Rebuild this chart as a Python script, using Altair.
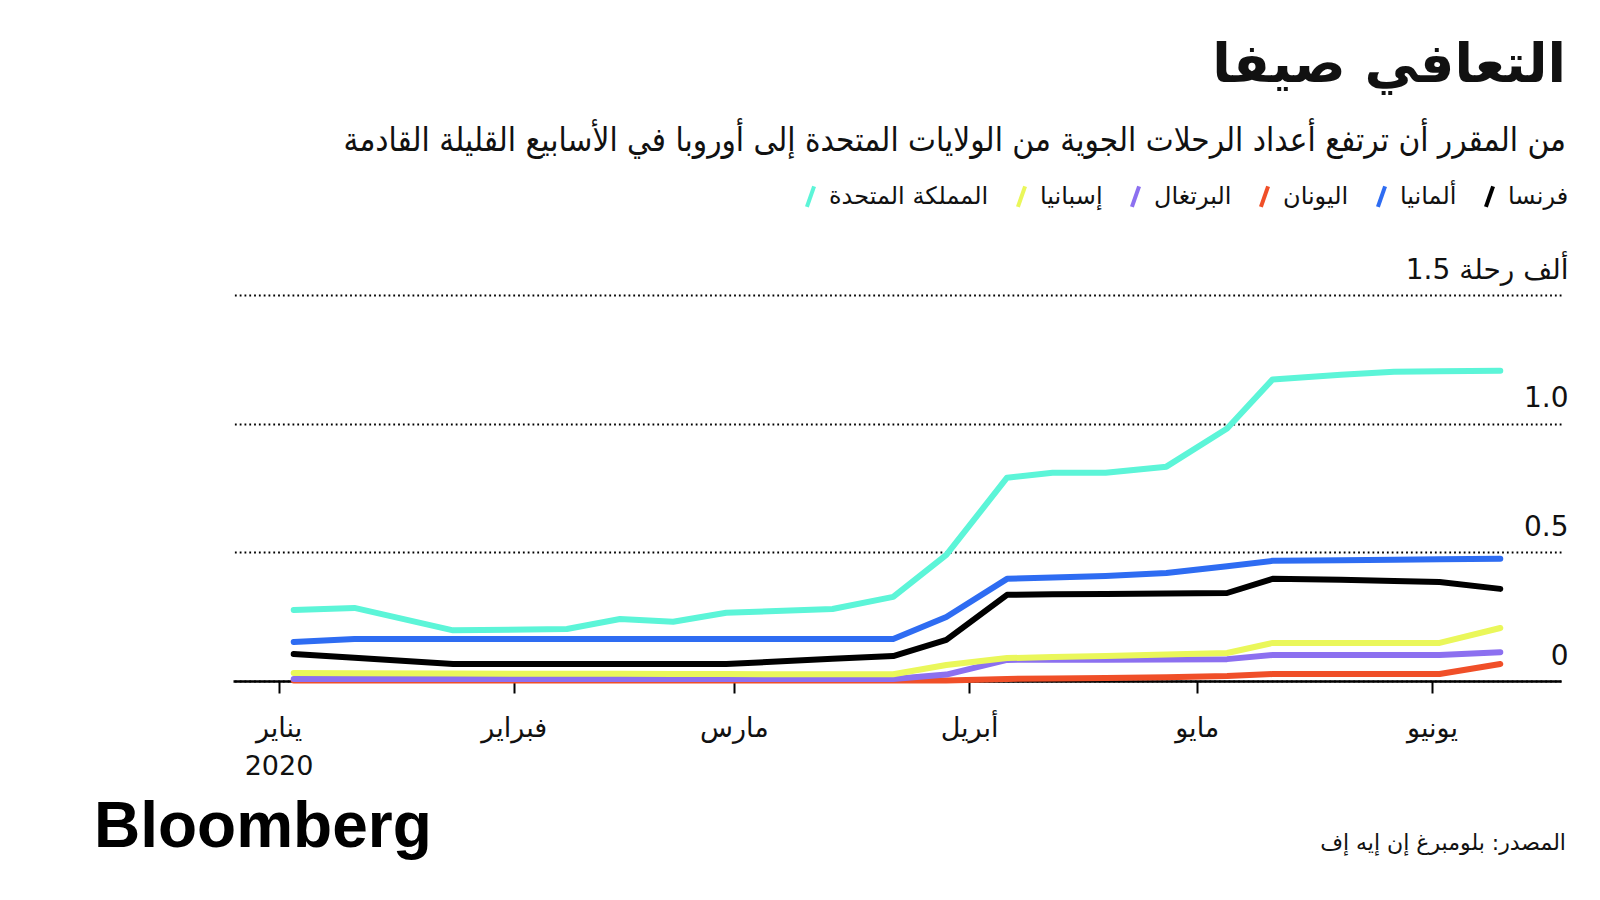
import altair as alt
import pandas as pd

# ---------------- data ----------------
dates = ["2020-01-03", "2020-01-11", "2020-01-24", "2020-02-08", "2020-02-15",
         "2020-02-22", "2020-02-29", "2020-03-14", "2020-03-22", "2020-03-29",
         "2020-04-06", "2020-04-12", "2020-04-19", "2020-04-27", "2020-05-05",
         "2020-05-11", "2020-05-20", "2020-05-27", "2020-06-02", "2020-06-10"]

countries = ["فرنسا", "ألمانيا", "اليونان", "البرتغال", "إسبانيا", "المملكة المتحدة"]
colors = ["#000000", "#2e6cf2", "#f04f28", "#8c70f0", "#eaf75a", "#5cf5d8"]

france = [0.105, 0.090, 0.066, 0.066, 0.066, 0.066, 0.066, 0.086, 0.097, 0.160,
          0.335, 0.337, 0.338, 0.340, 0.342, 0.397, 0.393, 0.389, 0.385, 0.358]
germany = [0.152, 0.163, 0.163, 0.163, 0.163, 0.163, 0.163, 0.163, 0.163, 0.249,
           0.397, 0.402, 0.408, 0.420, 0.446, 0.467, 0.469, 0.471, 0.473, 0.475]
greece = [0.002, 0.002, 0.002, 0.002, 0.002, 0.002, 0.002, 0.002, 0.002, 0.002,
          0.008, 0.010, 0.012, 0.015, 0.019, 0.027, 0.027, 0.027, 0.027, 0.066]
portugal = [0.008, 0.008, 0.008, 0.008, 0.008, 0.008, 0.008, 0.008, 0.008, 0.025,
            0.082, 0.083, 0.083, 0.084, 0.085, 0.101, 0.101, 0.101, 0.101, 0.112]
spain = [0.031, 0.030, 0.029, 0.028, 0.028, 0.027, 0.027, 0.026, 0.026, 0.062,
         0.089, 0.093, 0.097, 0.103, 0.109, 0.148, 0.148, 0.148, 0.148, 0.206]
uk = [0.276, 0.284, 0.197, 0.202, 0.241, 0.230, 0.265, 0.280, 0.327, 0.490,
      0.790, 0.809, 0.809, 0.833, 0.981, 1.172, 1.190, 1.202, 1.204, 1.206]

months_ar = ["يناير", "فبراير", "مارس", "أبريل", "مايو", "يونيو"]
y_ticks = [0, 0.5, 1.0, 1.5]
unit_label = "ألف رحلة 1.5"

title_text = "التعافي صيفا"
subtitle_text = "من المقرر أن ترتفع أعداد الرحلات الجوية من الولايات المتحدة إلى أوروبا في الأسابيع القليلة القادمة"
source_text = "المصدر: بلومبرغ إن إيه إف"
logo_text = "Bloomberg"

# ---------------- table ----------------
series = {"فرنسا": france, "ألمانيا": germany, "اليونان": greece,
          "البرتغال": portugal, "إسبانيا": spain, "المملكة المتحدة": uk}
draw_order = ["اليونان", "البرتغال", "إسبانيا", "فرنسا", "ألمانيا", "المملكة المتحدة"]
rows = []
for i, name in enumerate(draw_order):
    for d, v in zip(dates, series[name]):
        rows.append({"date": d + "T00:00:00", "country": name, "value": v, "k": i})
df = pd.DataFrame(rows)

legend_order = list(reversed(countries))
color_range = [colors[countries.index(c)] for c in legend_order]

month_list = "[" + ",".join("'" + m + "'" for m in months_ar) + "]"
x_label_expr = "month(datum.value)==0 ? ['" + months_ar[0] + "','2020'] : " + month_list + "[month(datum.value)]"
y_label_expr = "datum.value==1.5 ? '" + unit_label + "' : (datum.value==0 ? '0' : format(datum.value, '.1f'))"

AR_FONT = "DejaVu Sans"

lines = alt.Chart(df).mark_line(strokeWidth=6, strokeCap="round", strokeJoin="round").encode(
    x=alt.X("date:T",
            scale=alt.Scale(domain=[alt.DateTime(year=2019, month=12, date=26),
                                    alt.DateTime(year=2020, month=6, date=18)]),
            axis=alt.Axis(values=[alt.DateTime(year=2020, month=m, date=1) for m in range(1, 7)],
                          labelExpr=x_label_expr, title=None, grid=False,
                          domainColor="#000", domainWidth=2.5,
                          tickColor="#000", tickSize=12, tickWidth=2,
                          labelFont=AR_FONT, labelFontSize=27, labelColor="#111",
                          labelPadding=22, labelLineHeight=38)),
    y=alt.Y("value:Q",
            scale=alt.Scale(domain=[0, 1.5], nice=False, zero=True),
            axis=alt.Axis(orient="right", values=y_ticks, labelExpr=y_label_expr, title=None,
                          domain=False, ticks=False, tickSize=0, labelPadding=7,
                          labelAlign="right", labelBaseline="alphabetic", labelOffset=-17,
                          grid=True, gridDash=[1.8, 3], gridColor="#000", gridWidth=1.8,
                          labelFont=AR_FONT, labelFontSize=28, labelColor="#111")),
    color=alt.Color("country:N",
                    scale=alt.Scale(domain=legend_order, range=color_range),
                    legend=alt.Legend(title=None, orient="none", legendX=565, legendY=-111,
                                      direction="horizontal",
                                      symbolType="M-0.35,1L0.35,-1", symbolSize=420,
                                      symbolStrokeWidth=4,
                                      labelFont=AR_FONT, labelFontSize=24, labelColor="#111",
                                      labelLimit=400, columnPadding=20, labelOffset=6)),
    detail="k:O",
)

logo = alt.Chart(pd.DataFrame({"t": [logo_text]})).mark_text(
    align="left", baseline="alphabetic", font="Liberation Sans", fontWeight="bold",
    fontSize=64, color="#000").encode(text="t:N", x=alt.value(-139), y=alt.value(552))

source = alt.Chart(pd.DataFrame({"t": [source_text]})).mark_text(
    align="right", baseline="alphabetic", font=AR_FONT, fontSize=22, color="#111").encode(
    text="t:N", x=alt.value(1333), y=alt.value(555))

chart = alt.layer(lines, logo, source).properties(
    width=1328, height=386,
    title=alt.Title(text=title_text, subtitle=subtitle_text, anchor="end", frame="group",
                    font=AR_FONT, fontSize=54, fontWeight="bold", color="#111",
                    subtitleFont="DejaVu Sans Condensed", subtitleFontSize=33,
                    subtitleColor="#111", subtitlePadding=32, offset=26, dx=5),
    padding={"left": 86, "top": 31, "right": 0, "bottom": 0},
).configure_view(stroke=None)

chart.save("out.html", embed_options={"renderer": "svg", "actions": False})
